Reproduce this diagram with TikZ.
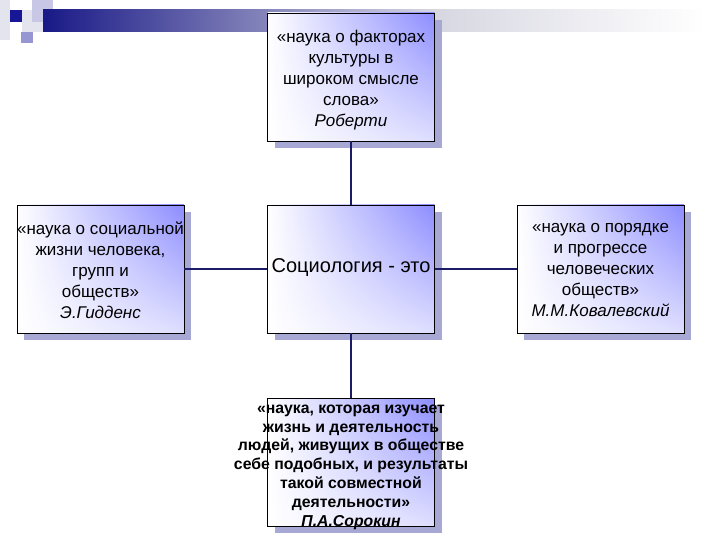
\documentclass[tikz,border=0pt]{standalone}
\usepackage{fontspec}
\setmainfont{Liberation Sans}
\usetikzlibrary{shadows,shadings}
\definecolor{navy}{RGB}{28,28,100}
\definecolor{boxblue}{RGB}{140,140,255}
\definecolor{boxlr}{RGB}{222,222,255}
\definecolor{shadowc}{RGB}{168,168,212}
\definecolor{bardark}{RGB}{25,25,135}
\definecolor{barmid}{RGB}{215,215,226}
\definecolor{sqdark}{RGB}{22,22,150}
\definecolor{sqlight}{RGB}{200,200,230}
\definecolor{sqmid}{RGB}{150,150,210}
\definecolor{sqpale}{RGB}{228,228,238}
\tikzset{
  x=1pt, y=-1pt,
  infobox/.style={rectangle, draw=black, line width=0.9pt, minimum width=167pt, minimum height=128pt,
    inner sep=0pt, upper right=boxblue, upper left=white, lower left=white, lower right=boxlr,
    general shadow={fill=shadowc, shadow xshift=7pt, shadow yshift=-7pt}},
  boxtext/.style={align=center, inner sep=0pt, font=\fontsize{17}{21}\selectfont},
  boldtext/.style={align=center, inner sep=0pt, font=\fontsize{15.8}{18.8}\selectfont\bfseries},
  link/.style={draw=navy, line width=2pt}
}
\begin{document}
\begin{tikzpicture}
\useasboundingbox (0,0) rectangle (720,540);
% decoration
\fill[sqpale] (0,0) rectangle (10,40);
\fill[sqpale] (22,10) rectangle (43,32);
\fill[sqlight] (32,0) rectangle (53,22);
\fill[sqmid] (21,32) rectangle (33,43);
\fill[sqdark] (10,10) rectangle (22,22);
\shade[left color=bardark, right color=barmid] (43,10) rectangle (435,32);
\shade[left color=barmid, right color=white] (435,10) rectangle (705,32);
% boxes
\node[infobox] (top) at (351,77) {};
\node[infobox] (left) at (100.5,269) {};
\node[infobox] (center) at (351,269) {};
\node[infobox] (right) at (600.5,269) {};
\node[infobox] (bottom) at (351,462) {};
% connectors
\draw[link] (top.south) -- (center.north);
\draw[link] (left.east) -- (center.west);
\draw[link] (center.east) -- (right.west);
\draw[link] (center.south) -- (bottom.north);
% texts
\node[boxtext] (ttop) at (351,80) {«наука о факторах\\культуры в\\широком смысле\\слова»\\\textit{Роберти}};
\node[boxtext] (tleft) at (100.5,270) {«наука о социальной\\жизни человека,\\групп и\\обществ»\\\textit{Э.Гидденс}};
\node[boxtext] (tright) at (600.5,270) {«наука о порядке\\и прогрессе\\человеческих\\обществ»\\\textit{М.М.Ковалевский}};
\node[font=\fontsize{20}{24}\selectfont, inner sep=0pt] (tcenter) at (351,268) {Социология - это};
\node[boldtext] (tbottom) at (351,467) {«наука, которая изучает\\жизнь и деятельность\\людей, живущих в обществе\\себе подобных, и результаты\\такой совместной\\деятельности»\\\textit{П.А.Сорокин}};
\end{tikzpicture}
\end{document}
